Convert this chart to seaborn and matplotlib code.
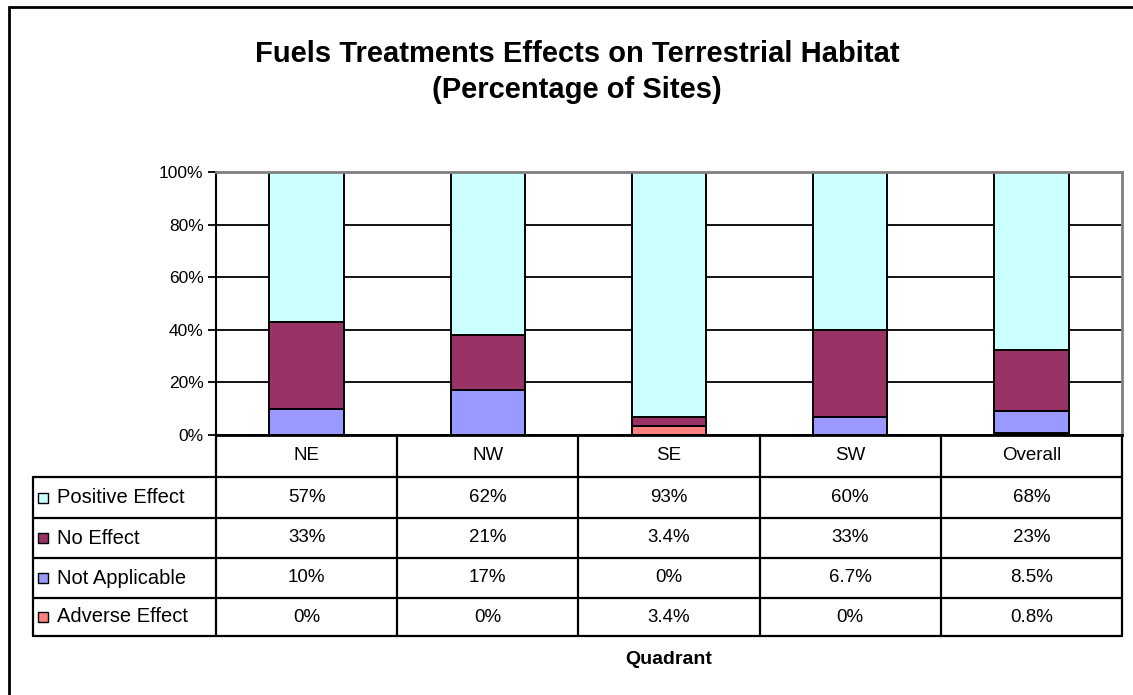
import numpy as np
import pandas as pd
import matplotlib
matplotlib.use('Agg')
import matplotlib.pyplot as plt
import matplotlib.transforms as mtransforms
from matplotlib.patches import Rectangle
from matplotlib.lines import Line2D
import seaborn as sns

# data
quadrants = ['NE', 'NW', 'SE', 'SW', 'Overall']
series_names = ['Positive Effect', 'No Effect', 'Not Applicable', 'Adverse Effect']
positive = [57, 62, 93, 60, 68]
no_effect = [33, 21, 3.4, 33, 23]
not_applicable = [10, 17, 0, 6.7, 8.5]
adverse = [0, 0, 3.4, 0, 0.8]
colors = ['#CCFFFF', '#993366', '#9999FF', '#FF8080']

sns.set_style('white')
plt.rcParams['font.family'] = ['Liberation Sans', 'DejaVu Sans']
plt.rcParams['text.color'] = 'black'
plt.rcParams['ytick.labelcolor'] = 'black'

W, H = 1133, 695
fig = plt.figure(figsize=(W / 100, H / 100), dpi=100)


def fx(x):
    return x / W


def fy(y):
    return 1 - y / H


ax = fig.add_axes([fx(216), fy(435), fx(1122) - fx(216), fy(172) - fy(435)])

df = pd.DataFrame(dict(zip(series_names, [positive, no_effect, not_applicable, adverse])),
                  index=quadrants)
share = df.div(df.sum(axis=1), axis=0) * 100  # 100% stacked

# stack from the bottom: adverse, not applicable, no effect, positive
bottom = np.zeros(len(quadrants))
for name, color in reversed(list(zip(series_names, colors))):
    vals = share[name].values
    sns.barplot(x=quadrants, y=vals, bottom=bottom, color=color, saturation=1,
                width=0.41, edgecolor='black', linewidth=1.4, ax=ax)
    bottom = bottom + vals

ax.set_xlim(-0.5, len(quadrants) - 0.5)
ax.set_ylim(0, 100)
ax.set_yticks(range(0, 101, 20))
ax.set_yticklabels([f'{t}%' for t in range(0, 101, 20)])
ax.set_xlabel('')
ax.set_ylabel('')
ax.set_axisbelow(True)
ax.yaxis.grid(True, color='black', linewidth=1.3)
ax.tick_params(axis='y', left=True, length=6, width=1.3, color='black',
               direction='out', labelsize=12.5, pad=3)
ax.tick_params(axis='x', bottom=False, labelbottom=False)
for side in ['top', 'right']:
    ax.spines[side].set_color('#808080')
    ax.spines[side].set_linewidth(2)
ax.spines['left'].set_color('black')
ax.spines['left'].set_linewidth(1.5)
ax.spines['bottom'].set_color('black')
ax.spines['bottom'].set_linewidth(2)

# data table under the chart
row_edges = [435, 477, 518, 558, 598, 636]
trans = mtransforms.blended_transform_factory(ax.transData, fig.transFigure)

for y in row_edges[1:]:
    fig.add_artist(Line2D([fx(33), fx(1122)], [fy(y), fy(y)], color='black', lw=1.6))
fig.add_artist(Line2D([fx(33), fx(33)], [fy(477), fy(636)], color='black', lw=1.6))
for i in range(len(quadrants) + 1):
    fig.add_artist(Line2D([i - 0.5, i - 0.5], [fy(435), fy(636)], color='black', lw=1.6,
                          transform=trans))


def pct(v):
    return f'{v:g}%'


for i, q in enumerate(quadrants):
    fig.text(i, fy(456), q, transform=trans, ha='center', va='center', fontsize=13.5)

for r, name in enumerate(series_names):
    yc = (row_edges[r + 1] + row_edges[r + 2]) / 2
    fig.add_artist(Rectangle((fx(38), fy(yc + 5)), fx(10), 10 / H, facecolor=colors[r],
                             edgecolor='black', lw=1))
    fig.text(fx(57), fy(yc), name, ha='left', va='center', fontsize=14.5)
    for i, v in enumerate(df[name].values):
        fig.text(i, fy(yc), pct(v), transform=trans, ha='center', va='center', fontsize=13.5)

fig.text(fx(669), fy(660), 'Quadrant', ha='center', va='center', fontsize=14,
         fontweight='bold')
fig.text(fx(577), fy(72), 'Fuels Treatments Effects on Terrestrial Habitat\n(Percentage of Sites)',
         ha='center', va='center', fontsize=21, fontweight='bold', linespacing=1.35)

# outer chart border (runs off the right and bottom edges)
fig.add_artist(Rectangle((fx(9), fy(720)), fx(1160) - fx(9), fy(7) - fy(720),
                         fill=False, edgecolor='black', lw=2))

fig.savefig('out.png', dpi=100)
